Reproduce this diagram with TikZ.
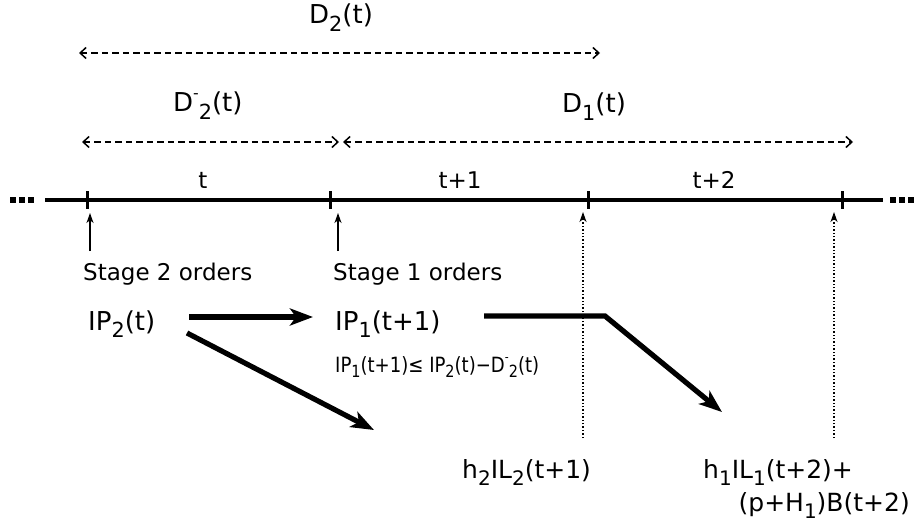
\documentclass[tikz,border=0pt]{standalone}
\usepackage{fontspec}
\setmainfont{DejaVu Sans}
\usetikzlibrary{arrows.meta}
\newcommand\lo[1]{\raisebox{-0.28em}{\scalebox{0.8}{#1}}}
\newcommand\dm{\raisebox{0.5em}{\scalebox{0.6}{-}}}
\tikzset{
  lab/.style={font=\fontsize{23}{28}\selectfont, inner sep=0pt, anchor=base west},
  big/.style={lab, font=\fontsize{26}{30}\selectfont},
  cost/.style={lab, font=\fontsize{25}{30}\selectfont},
  clab/.style={lab, anchor=base},
  small/.style={font=\fontsize{21}{24}\selectfont, inner sep=0pt, anchor=base west},
  dimarr/.style={line width=1.5pt, dash pattern=on 6.5pt off 4pt,
    {Straight Barb[length=6pt,width=11pt]}-{Straight Barb[length=6pt,width=11pt]}},
  axis/.style={line width=3.8pt},
  tick/.style={line width=3pt},
  thinarr/.style={line width=1.5pt, -{Stealth[length=10pt,width=7pt,inset=3pt]}},
  dotarr/.style={line width=1.4pt, dotted, -{Stealth[length=10pt,width=7pt,inset=3pt]}},
  thickarr/.style={line width=5.2pt, -{Stealth[length=23pt,width=17pt,inset=6pt]}},
  sq/.style={fill=black}
}
\begin{document}
\begin{tikzpicture}[x=1pt,y=-1pt]
\path[use as bounding box] (0,0) rectangle (918,524);

% dimension arrows
\coordinate (d2a) at (79,53);  \coordinate (d2b) at (600,53);
\coordinate (dma) at (82,142); \coordinate (dmb) at (339,142);
\coordinate (d1a) at (343,142);\coordinate (d1b) at (853,142);
\draw[dimarr] (d2a) -- (d2b);
\draw[dimarr] (dma) -- (dmb);
\draw[dimarr] (d1a) -- (d1b);
\node[big] (D2) at (309,24) {D\lo{2}(t)};
\node[big] (Dm2) at (173,112) {D\dm\lo{2}(t)};
\node[big] (D1) at (562,113) {D\lo{1}(t)};

% time axis
\coordinate (ax0) at (45,200); \coordinate (ax1) at (883,200);
\draw[axis] (ax0) -- (ax1);
\foreach \n/\x in {T0/87,T1/330,T2/588,T3/842}{
  \coordinate (\n) at (\x,200);
  \draw[tick] (\x,191) -- (\x,209);
}
\foreach \x in {10,19,28}{ \fill[sq] (\x,197) rectangle ++(6,6); }
\foreach \x in {890,899,908}{ \fill[sq] (\x,197) rectangle ++(6,6); }
\node[clab] (tl0) at (203,188) {t};
\node[clab] (tl1) at (460,188) {t+1};
\node[clab] (tl2) at (714,188) {t+2};

% order arrows
\coordinate (s2a) at (90,251); \coordinate (s2b) at (90,213);
\coordinate (s1a) at (338,251); \coordinate (s1b) at (338,213);
\draw[thinarr] (s2a) -- (s2b);
\draw[thinarr] (s1a) -- (s1b);
\node[lab] (st2) at (83,280) {Stage 2 orders};
\node[lab] (st1) at (333,280) {Stage 1 orders};

% dotted arrows
\coordinate (p1a) at (583,438); \coordinate (p1b) at (583,212);
\coordinate (p2a) at (834,438); \coordinate (p2b) at (834,212);
\draw[dotarr] (p1a) -- (p1b);
\draw[dotarr] (p2a) -- (p2b);

% inventory positions
\node[big] (ip2) at (88,330) {IP\lo{2}(t)};
\node[big] (ip1) at (335,330) {IP\lo{1}(t+1)};
\node[small] (cons) at (335,372) {\scalebox{0.86}[1]{IP\lo{1}(t+1)≤ IP\lo{2}(t)−D\dm\lo{2}(t)}};

\coordinate (a1s) at (189,317); \coordinate (a1e) at (313,317);
\coordinate (a3s) at (187,333); \coordinate (a3e) at (374,430);
\coordinate (a2s) at (484,316); \coordinate (a2m) at (605,316); \coordinate (a2e) at (722,412);
\draw[thickarr] (a1s) -- (a1e);
\draw[thickarr] (a3s) -- (a3e);
\draw[thickarr] (a2s) -- (a2m) -- (a2e);

% costs
\node[cost] (c2) at (462,478) {h\lo{2}IL\lo{2}(t+1)};
\node[cost] (c1) at (703,478) {h\lo{1}IL\lo{1}(t+2)+};
\node[cost, anchor=base east] (c1b) at (910,511) {(p+H\lo{1})B(t+2)};
\end{tikzpicture}
\end{document}
